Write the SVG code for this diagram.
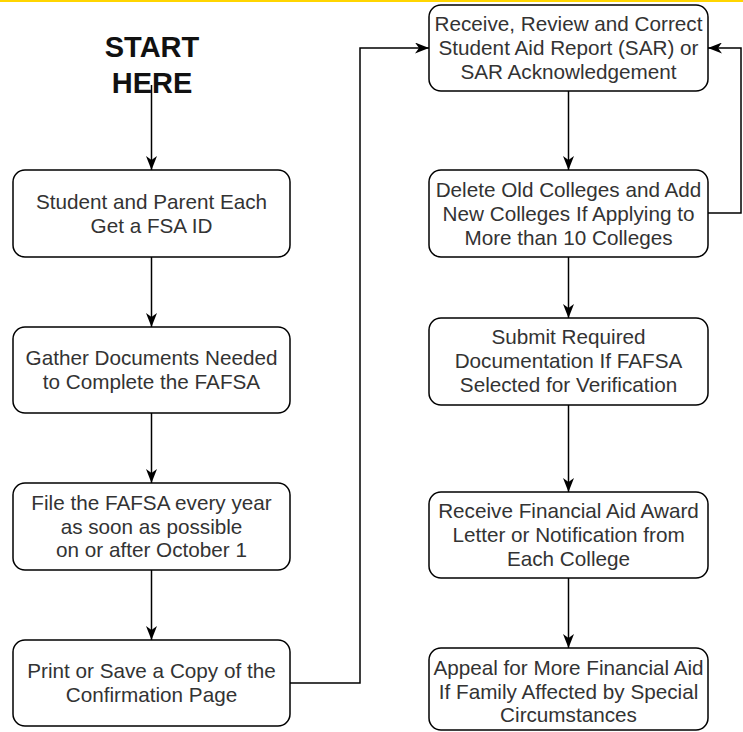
<svg xmlns="http://www.w3.org/2000/svg" width="743" height="732" viewBox="0 0 743 732">
  <style>
    .box { fill: #ffffff; stroke: #000000; stroke-width: 1.5; }
    .lbl { font-family: "Liberation Sans", Arial, sans-serif; font-size: 20.7px; fill: #333333; text-anchor: middle; }
    .start { font-family: "Liberation Sans", Arial, sans-serif; font-size: 29px; font-weight: bold; fill: #111111; text-anchor: middle; }
    .edge { fill: none; stroke: #000000; stroke-width: 1.5; marker-end: url(#arrow); }
  </style>
  <defs>
    <marker id="arrow" markerUnits="userSpaceOnUse" markerWidth="14" markerHeight="11" refX="14" refY="5.5" orient="auto">
      <path d="M0,0 L14,5.5 L0,11 L4,5.5 Z" fill="#000000"/>
    </marker>
  </defs>
  <rect x="0" y="0" width="743" height="732" fill="#ffffff"/>
  <rect x="0" y="0" width="743" height="2" fill="#FFD500"/>

  <g id="start">
    <text class="start" x="152" y="57">START</text>
    <text class="start" x="152" y="93">HERE</text>
  </g>

  <g id="connectors">
    <path class="edge" d="M151.5,85 V170"/>
    <path class="edge" d="M151.5,257 V327"/>
    <path class="edge" d="M151.5,413 V483"/>
    <path class="edge" d="M151.5,570 V640"/>
    <path class="edge" d="M290,683 H360 V48 H429"/>
    <path class="edge" d="M568.5,91 V170"/>
    <path class="edge" d="M708,213 H741 V48 H708"/>
    <path class="edge" d="M568.5,257 V318"/>
    <path class="edge" d="M568.5,405 V492"/>
    <path class="edge" d="M568.5,578 V648"/>
  </g>

  <g id="fsa-id">
    <rect class="box" x="13" y="170" width="277" height="87" rx="12"/>
    <text class="lbl" x="151.5" y="209">Student and Parent Each</text>
    <text class="lbl" x="151.5" y="233">Get a FSA ID</text>
  </g>
  <g id="gather-docs">
    <rect class="box" x="13" y="327" width="277" height="86" rx="12"/>
    <text class="lbl" x="151.5" y="365">Gather Documents Needed</text>
    <text class="lbl" x="151.5" y="389">to Complete the FAFSA</text>
  </g>
  <g id="file-fafsa">
    <rect class="box" x="13" y="483" width="277" height="87" rx="12"/>
    <text class="lbl" x="151.5" y="510">File the FAFSA every year</text>
    <text class="lbl" x="151.5" y="533.5">as soon as possible</text>
    <text class="lbl" x="151.5" y="557">on or after October 1</text>
  </g>
  <g id="print-confirmation">
    <rect class="box" x="13" y="640" width="277" height="86" rx="12"/>
    <text class="lbl" x="151.5" y="678">Print or Save a Copy of the</text>
    <text class="lbl" x="151.5" y="702">Confirmation Page</text>
  </g>

  <g id="review-sar">
    <rect class="box" x="429" y="5" width="279" height="86" rx="12"/>
    <text class="lbl" x="568.5" y="31">Receive, Review and Correct</text>
    <text class="lbl" x="568.5" y="55">Student Aid Report (SAR) or</text>
    <text class="lbl" x="568.5" y="79">SAR Acknowledgement</text>
  </g>
  <g id="colleges">
    <rect class="box" x="429" y="170" width="279" height="87" rx="12"/>
    <text class="lbl" x="568.5" y="197">Delete Old Colleges and Add</text>
    <text class="lbl" x="568.5" y="221">New Colleges If Applying to</text>
    <text class="lbl" x="568.5" y="245">More than 10 Colleges</text>
  </g>
  <g id="verification">
    <rect class="box" x="429" y="318" width="279" height="87" rx="12"/>
    <text class="lbl" x="568.5" y="344">Submit Required</text>
    <text class="lbl" x="568.5" y="368">Documentation If FAFSA</text>
    <text class="lbl" x="568.5" y="392">Selected for Verification</text>
  </g>
  <g id="award-letter">
    <rect class="box" x="429" y="492" width="279" height="86" rx="12"/>
    <text class="lbl" x="568.5" y="518">Receive Financial Aid Award</text>
    <text class="lbl" x="568.5" y="542">Letter or Notification from</text>
    <text class="lbl" x="568.5" y="566">Each College</text>
  </g>
  <g id="appeal">
    <rect class="box" x="429" y="648" width="279" height="82" rx="12"/>
    <text class="lbl" x="568.5" y="675">Appeal for More Financial Aid</text>
    <text class="lbl" x="568.5" y="699">If Family Affected by Special</text>
    <text class="lbl" x="568.5" y="722">Circumstances</text>
  </g>
</svg>
